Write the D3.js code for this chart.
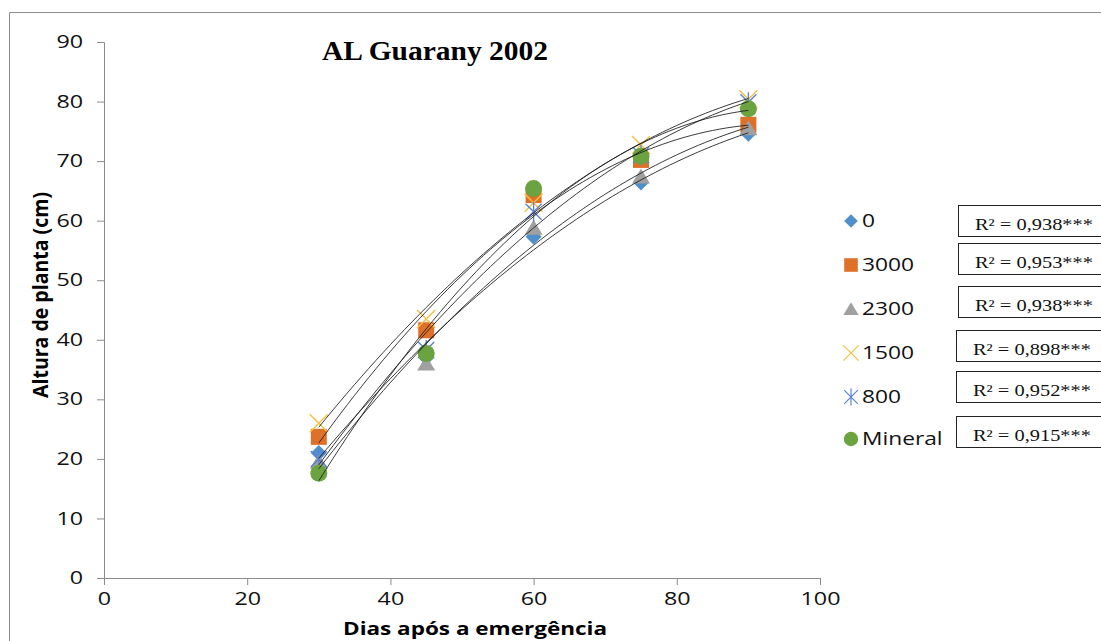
<!DOCTYPE html>
<html>
<head>
<meta charset="utf-8">
<script src="https://cdn.jsdelivr.net/npm/d3@7"></script>
<style>
  body { margin: 0; background: #fff; }
  text { font-family: "Open Sans", "Liberation Sans", sans-serif; }
</style>
</head>
<body>
<div id="chart"></div>
<script>
//************* data *************/
var days = [30, 45, 60, 75, 90];
var seriesNames = ["0", "3000", "2300", "1500", "800", "Mineral"];
var h0       = [21.0, 37.0, 57.3, 66.4, 74.6];
var h3000    = [23.7, 41.6, 64.3, 70.2, 76.1];
var h2300    = [19.5, 36.0, 58.8, 67.4, 75.5];
var h1500    = [26.0, 43.5, 63.0, 72.7, 80.4];
var h800     = [20.0, 38.3, 61.5, 71.0, 79.9];
var hMineral = [17.6, 37.7, 65.4, 70.8, 78.8];
var r2Labels = ["R² = 0,938***", "R² = 0,953***", "R² = 0,938***", "R² = 0,898***", "R² = 0,952***", "R² = 0,915***"];
var xTicks = [0, 20, 40, 60, 80, 100];
var yTicks = [0, 10, 20, 30, 40, 50, 60, 70, 80, 90];

var allHeights = [h0, h3000, h2300, h1500, h800, hMineral];
var styles = [
  {shape: "diamond", color: "#4f8fcc"},
  {shape: "square", color: "#df7029"},
  {shape: "triangle", color: "#a0a0a0"},
  {shape: "cross", color: "#f6c041"},
  {shape: "star", color: "#5a84d0"},
  {shape: "circle", color: "#6aa340"}
];

//************* dimensions *************/
var W = 1101, H = 641;
var plot = {left: 104, right: 820, top: 42, bottom: 578};

var svg = d3.select("#chart").append("svg")
  .attr("width", W).attr("height", H);

// the reference text looks wider than the fonts; stretch horizontally
function stretch(sel, factor) {
  sel.each(function() {
    var len = this.getComputedTextLength();
    d3.select(this).attr("textLength", len * factor).attr("lengthAdjust", "spacingAndGlyphs");
  });
}

// outer border
svg.append("path")
  .attr("d", "M9.5," + H + "V12.5H" + W)
  .attr("fill", "none").attr("stroke", "#8c8c8c");

//************* scales *************/
var x = d3.scaleLinear().domain([0, 100]).range([plot.left, plot.right]);
var y = d3.scaleLinear().domain([0, 90]).range([plot.bottom, plot.top]);

//************* axes *************/
var xAxis = svg.append("g")
  .attr("transform", "translate(0," + plot.bottom + ")")
  .call(d3.axisBottom(x).tickValues(xTicks).tickSize(7).tickPadding(8));
var yAxis = svg.append("g")
  .attr("transform", "translate(" + plot.left + ",0)")
  .call(d3.axisLeft(y).tickValues(yTicks).tickSize(7).tickPadding(14));
[xAxis, yAxis].forEach(function(g) {
  g.selectAll("path, line").attr("stroke", "#8c8c8c");
  g.selectAll("text").attr("font-size", "17.5px").attr("fill", "#111");
  stretch(g.selectAll("text"), 1.33);
});

// axis titles
var xTitle = svg.append("text")
  .attr("x", 475).attr("y", 635)
  .attr("text-anchor", "middle")
  .attr("font-size", "18px").attr("font-weight", "bold")
  .text("Dias após a emergência");
xTitle.attr("textLength", 264).attr("lengthAdjust", "spacingAndGlyphs");
svg.append("text")
  .attr("transform", "translate(48,295) scale(1.15,1) rotate(-90)")
  .attr("text-anchor", "middle")
  .attr("font-size", "18px").attr("font-weight", "bold")
  .attr("textLength", 206).attr("lengthAdjust", "spacingAndGlyphs")
  .text("Altura de planta (cm)");

// title
svg.append("text")
  .attr("x", 435).attr("y", 60)
  .attr("text-anchor", "middle")
  .style("font-family", "'Liberation Serif', 'Times New Roman', serif")
  .attr("font-size", "27px").attr("font-weight", "bold")
  .attr("textLength", 226).attr("lengthAdjust", "spacingAndGlyphs")
  .text("AL Guarany 2002");

//************* markers *************/
function drawMarker(g, shape, color, cx, cy) {
  if (shape == "diamond") {
    g.append("path").attr("d", "M" + cx + "," + (cy - 8) + "L" + (cx + 8) + "," + cy + "L" + cx + "," + (cy + 8) + "L" + (cx - 8) + "," + cy + "Z").attr("fill", color);
  } else if (shape == "square") {
    g.append("rect").attr("x", cx - 8).attr("y", cy - 8).attr("width", 16).attr("height", 16).attr("fill", color);
  } else if (shape == "triangle") {
    g.append("path").attr("d", "M" + cx + "," + (cy - 8) + "L" + (cx + 9) + "," + (cy + 7) + "L" + (cx - 9) + "," + (cy + 7) + "Z").attr("fill", color);
  } else if (shape == "cross") {
    g.append("path").attr("d", "M" + (cx - 9) + "," + (cy - 9) + "L" + (cx + 9) + "," + (cy + 9) + "M" + (cx + 9) + "," + (cy - 9) + "L" + (cx - 9) + "," + (cy + 9)).attr("stroke", color).attr("stroke-width", 1.4).attr("fill", "none");
  } else if (shape == "star") {
    g.append("path").attr("d", "M" + (cx - 8) + "," + (cy - 8) + "L" + (cx + 8) + "," + (cy + 8) + "M" + (cx + 8) + "," + (cy - 8) + "L" + (cx - 8) + "," + (cy + 8) + "M" + cx + "," + (cy - 10) + "L" + cx + "," + (cy + 10)).attr("stroke", color).attr("stroke-width", 1.4).attr("fill", "none");
  } else {
    g.append("circle").attr("cx", cx).attr("cy", cy).attr("r", 8.5).attr("fill", color);
  }
}

var markers = svg.append("g");
allHeights.forEach(function(vals, i) {
  vals.forEach(function(v, j) {
    drawMarker(markers, styles[i].shape, styles[i].color, x(days[j]), y(v));
  });
});

//************* polynomial trend lines (order 2, least squares) *************/
function quadFit(xs, ys) {
  var n = xs.length, s = [0, 0, 0, 0, 0], t = [0, 0, 0];
  for (var i = 0; i < n; i++) {
    var p = 1;
    for (var k = 0; k < 5; k++) { s[k] += p; if (k < 3) t[k] += p * ys[i]; p *= xs[i]; }
  }
  var A = [[s[0], s[1], s[2], t[0]], [s[1], s[2], s[3], t[1]], [s[2], s[3], s[4], t[2]]];
  for (var c = 0; c < 3; c++) {
    for (var r = c + 1; r < 3; r++) {
      var f = A[r][c] / A[c][c];
      for (var q = c; q < 4; q++) A[r][q] -= f * A[c][q];
    }
  }
  var b = [0, 0, 0];
  for (var r2 = 2; r2 >= 0; r2--) {
    var sum = A[r2][3];
    for (var q2 = r2 + 1; q2 < 3; q2++) sum -= A[r2][q2] * b[q2];
    b[r2] = sum / A[r2][r2];
  }
  return function(xx) { return b[0] + b[1] * xx + b[2] * xx * xx; };
}

var line = d3.line().x(function(d) { return x(d[0]); }).y(function(d) { return y(d[1]); });
allHeights.forEach(function(vals) {
  var f = quadFit(days, vals);
  var pts = d3.range(30, 90.01, 1).map(function(d) { return [d, f(d)]; });
  svg.append("path").attr("d", line(pts))
    .attr("fill", "none").attr("stroke", "#1a1a1a").attr("stroke-width", 1).attr("opacity", 0.85);
});

//************* legend *************/
var legendY = [221, 265, 309, 353, 397, 439];
var boxTop = [205, 243, 286, 330, 371, 416];
var boxLeft = [958, 958, 958, 956, 956, 956];
var legend = svg.append("g");
seriesNames.forEach(function(name, i) {
  var g = legend.append("g");
  var tmp = g.append("g").attr("transform", "translate(851," + legendY[i] + ") scale(0.85)");
  drawMarker(tmp, styles[i].shape, styles[i].color, 0, 0);
  var lab = g.append("text").attr("x", 862).attr("y", legendY[i] + 6)
    .attr("font-size", "17.5px").attr("fill", "#111").text(name);
  stretch(lab, 1.3);

  legend.append("rect")
    .attr("x", boxLeft[i] + 0.5).attr("y", boxTop[i] + 0.5)
    .attr("width", 160).attr("height", 31)
    .attr("fill", "#fff").attr("stroke", "#222").attr("stroke-width", 1);
  legend.append("text")
    .attr("x", boxLeft[i] + 76).attr("y", boxTop[i] + 25)
    .attr("text-anchor", "middle")
    .style("font-family", "'Liberation Serif', 'Times New Roman', serif")
    .attr("font-size", "16px").attr("fill", "#111")
    .attr("textLength", 118).attr("lengthAdjust", "spacingAndGlyphs")
    .text(r2Labels[i]);
});
</script>
</body>
</html>
